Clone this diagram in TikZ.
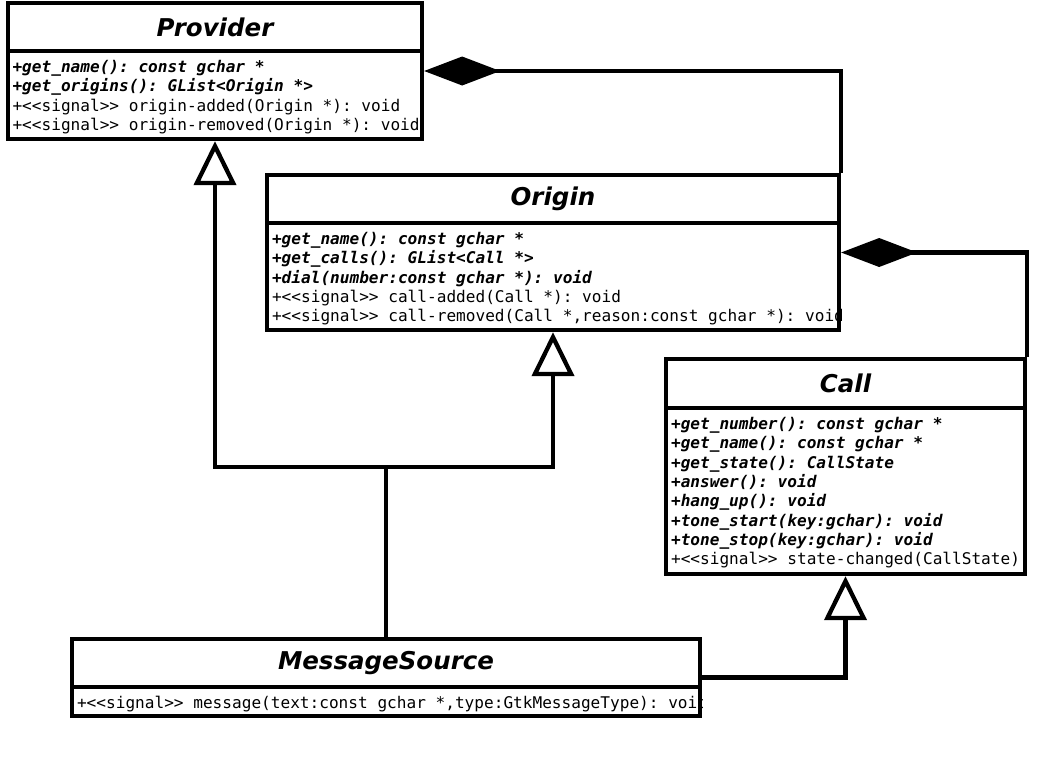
\documentclass[tikz,border=0pt]{standalone}
\usepackage{fontspec}
\setsansfont{DejaVu Sans}
\setmonofont{DejaVu Sans Mono}
\usetikzlibrary{positioning, arrows.meta, calc}

\newcommand{\umlop}[1]{{\bfseries\itshape #1}}
\newcommand{\umlsig}{+<{}<signal>{}> }

\begin{document}
\begin{tikzpicture}[
    x=1pt, y=1pt,
    % Estilos de las clases
    classbox/.style={rectangle, draw=black, line width=4.3pt, fill=white, inner sep=0pt},
    classtitle/.style={rectangle, draw=black, line width=4.3pt, inner sep=0pt, minimum height=48pt, font=\sffamily\bfseries\itshape\fontsize{24.5}{29}\selectfont},
    member/.style={anchor=base west, inner sep=0pt, font=\ttfamily\fontsize{16.1}{19}\selectfont},
    % Estilos de las relaciones
    composition/.style={line width=4.3pt, -{Diamond[length=76pt, width=29pt]}},
    generalization/.style={line width=4.3pt, -{Triangle[length=44pt, width=42pt, fill=white]}}
  ]
  \useasboundingbox (0,0) rectangle (1040,-756);

  % Definición de las clases
  \node (provider) [classbox, minimum width=414pt, minimum height=136pt] at (215,-71) {};
  \node (provider title) [classtitle, minimum width=414pt, below=0pt of provider.north] {Provider};

  \node (origin) [classbox, minimum width=572pt, minimum height=155pt] at (553,-252.5) {};
  \node (origin title) [classtitle, minimum width=572pt, below=0pt of origin.north] {Origin};

  \node (call) [classbox, minimum width=359pt, minimum height=215pt] at (845.5,-466.5) {};
  \node (call title) [classtitle, minimum width=359pt, minimum height=49pt, below=0pt of call.north] {Call};

  \node (msgsource) [classbox, minimum width=628pt, minimum height=77pt] at (386,-677.5) {};
  \node (msgsource title) [classtitle, minimum width=628pt, below=0pt of msgsource.north] {MessageSource};

  % Operaciones y señales
  \begin{scope}
    \clip (provider.south west) rectangle (provider.north east);
    \foreach \txt [count=\i from 0] in {
        \umlop{+get\_name(): const gchar *},
        \umlop{+get\_origins(): GList<Origin *>},
        \umlsig origin-added(Origin *): void,
        \umlsig origin-removed(Origin *): void}
      \node (provider m\i) [member] at ($(provider title.south west)+(6.5,-19.5-19.3*\i)$) {\txt};
  \end{scope}

  \begin{scope}
    \clip (origin.south west) rectangle (origin.north east);
    \foreach \txt [count=\i from 0] in {
        \umlop{+get\_name(): const gchar *},
        \umlop{+get\_calls(): GList<Call *>},
        \umlop{+dial(number:const gchar *): void},
        \umlsig call-added(Call *): void,
        {\umlsig call-removed(Call *,reason:const gchar *): void}}
      \node (origin m\i) [member] at ($(origin title.south west)+(7,-19.5-19.3*\i)$) {\txt};
  \end{scope}

  \begin{scope}
    \clip (call.south west) rectangle (call.north east);
    \foreach \txt [count=\i from 0] in {
        \umlop{+get\_number(): const gchar *},
        \umlop{+get\_name(): const gchar *},
        \umlop{+get\_state(): CallState},
        \umlop{+answer(): void},
        \umlop{+hang\_up(): void},
        \umlop{+tone\_start(key:gchar): void},
        \umlop{+tone\_stop(key:gchar): void},
        \umlsig state-changed(CallState)}
      \node (call m\i) [member] at ($(call title.south west)+(7,-19.5-19.3*\i)$) {\txt};
  \end{scope}

  \begin{scope}
    \clip (msgsource.south west) rectangle (msgsource.north east);
    \node (msgsource m0) [member] at ($(msgsource title.south west)+(7,-19.5)$) {{\umlsig message(text:const gchar *,type:GtkMessageType): void}};
  \end{scope}

  % Composiciones
  \draw [composition] (origin.north east) |- (provider.east);
  \draw [composition] (call.north east) |- (origin.east);

  % Herencias
  \coordinate (join) at ([yshift=170pt]msgsource.north);
  \draw [generalization] (msgsource.north) -- (join) -| (provider.south);
  \draw [generalization] (join) -| (origin.south);
  \draw [generalization] (msgsource.east) -| (call.south);
\end{tikzpicture}
\end{document}
